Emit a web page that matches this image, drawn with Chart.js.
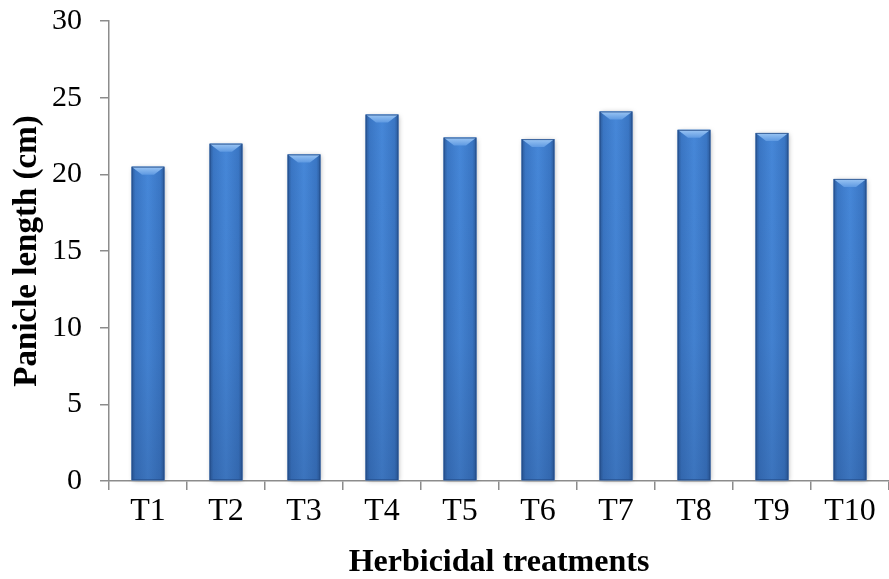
<!DOCTYPE html>
<html>
<head>
<meta charset="utf-8">
<script src="https://cdn.jsdelivr.net/npm/chart.js@4/dist/chart.umd.min.js"></script>
<style>
  html, body { margin: 0; padding: 0; background: #fff; }
  #wrap { width: 889px; height: 579px; }
</style>
</head>
<body>
<div id="wrap"><canvas id="panicleChart" width="889" height="579"></canvas></div>
<script>
'use strict';

const treatments = ['T1', 'T2', 'T3', 'T4', 'T5', 'T6', 'T7', 'T8', 'T9', 'T10'];
const panicleLength = [20.5, 22.0, 21.3, 23.9, 22.4, 22.3, 24.1, 22.9, 22.7, 19.7];
const yTicks = [0, 5, 10, 15, 20, 25, 30];

const serif = '"Liberation Serif", "Times New Roman", serif';
const axisGray = '#8c8c8c';

// paint each bar with the excel bevel look
const bevelBars = {
  id: 'bevelBars',
  beforeDatasetsDraw(chart) {
    const ctx = chart.ctx;
    const meta = chart.getDatasetMeta(0);
    ctx.save();
    ctx.shadowColor = 'rgba(0,0,0,0.35)';
    ctx.shadowBlur = 5;
    ctx.shadowOffsetX = 1;
    ctx.shadowOffsetY = 1;
    ctx.fillStyle = '#ffffff';
    for (let bar of meta.data) {
      ctx.fillRect(bar.x - bar.width / 2, bar.y, bar.width, bar.base - bar.y);
    }
    ctx.restore();
  },
  afterDatasetsDraw(chart) {
    const ctx = chart.ctx;
    const meta = chart.getDatasetMeta(0);
    ctx.save();
    for (let bar of meta.data) {
      const left = bar.x - bar.width / 2;
      const right = bar.x + bar.width / 2;
      const top = bar.y;
      const w = right - left;
      const h = bar.base - top;

      const side = ctx.createLinearGradient(left, 0, right, 0);
      side.addColorStop(0, '#2b5a9a');
      side.addColorStop(0.12, '#3a76c4');
      side.addColorStop(0.5, '#4687d8');
      side.addColorStop(0.88, '#3a76c4');
      side.addColorStop(1, '#2b5a9a');
      ctx.fillStyle = side;
      ctx.fillRect(left, top, w, h);

      // darker lower part
      const low = ctx.createLinearGradient(0, top, 0, bar.base);
      low.addColorStop(0, 'rgba(30,60,110,0)');
      low.addColorStop(0.6, 'rgba(30,60,110,0.08)');
      low.addColorStop(1, 'rgba(30,60,110,0.25)');
      ctx.fillStyle = low;
      ctx.fillRect(left, top, w, h);

      // top bevel
      const bevel = 8;
      const g = ctx.createLinearGradient(0, top, 0, top + bevel);
      g.addColorStop(0, '#9cc6f4');
      g.addColorStop(1, '#5f9ae2');
      ctx.fillStyle = g;
      ctx.beginPath();
      ctx.moveTo(left, top);
      ctx.lineTo(right, top);
      ctx.lineTo(right - bevel * 1.3, top + bevel);
      ctx.lineTo(left + bevel * 1.3, top + bevel);
      ctx.closePath();
      ctx.fill();

      ctx.strokeStyle = 'rgba(35,75,135,0.8)';
      ctx.lineWidth = 1;
      ctx.strokeRect(left + 0.5, top + 0.5, w - 1, h - 1);
    }
    ctx.restore();
  }
};

const ctx = document.getElementById('panicleChart').getContext('2d');

const panicleChart = new Chart(ctx, {
  type: 'bar',
  data: {
    labels: treatments,
    datasets: [{
      data: panicleLength,
      backgroundColor: '#3d7cc9',
      borderWidth: 0,
      categoryPercentage: 1,
      barPercentage: 0.42
    }]
  },
  options: {
    responsive: false,
    animation: false,
    devicePixelRatio: 1,
    layout: { padding: { top: 21, right: 0, left: 0, bottom: 0 } },
    plugins: {
      legend: { display: false },
      tooltip: { enabled: false }
    },
    scales: {
      y: {
        min: 0,
        max: 30,
        afterBuildTicks(scale) {
          scale.ticks = yTicks.map(v => ({ value: v }));
        },
        afterFit(scale) {
          scale.width = 109;
          scale.paddingTop = 0;
          scale.paddingBottom = 0;
        },
        border: { color: axisGray, width: 1.5 },
        grid: {
          drawOnChartArea: false,
          drawTicks: true,
          tickLength: 9,
          color: axisGray,
          lineWidth: 1.5
        },
        ticks: {
          color: '#000',
          padding: 18,
          font: { family: serif, size: 30 }
        },
        title: {
          display: true,
          text: 'Panicle length (cm)',
          color: '#000',
          padding: { top: 8, bottom: 0 },
          font: { family: serif, size: 33, weight: 'bold' }
        }
      },
      x: {
        afterFit(scale) {
          scale.height = 98;
          scale.paddingLeft = 0;
          scale.paddingRight = 0;
        },
        border: { color: axisGray, width: 1.5 },
        grid: {
          offset: true,
          drawOnChartArea: false,
          drawTicks: true,
          tickLength: 9,
          color: axisGray,
          lineWidth: 1.5
        },
        ticks: {
          color: '#000',
          padding: 2,
          font: { family: serif, size: 32 }
        },
        title: {
          display: true,
          text: 'Herbicidal treatments',
          color: '#000',
          padding: { top: 4, bottom: 0 },
          font: { family: serif, size: 32, weight: 'bold', lineHeight: 1.02 }
        }
      }
    }
  },
  plugins: [bevelBars]
});
</script>
</body>
</html>
